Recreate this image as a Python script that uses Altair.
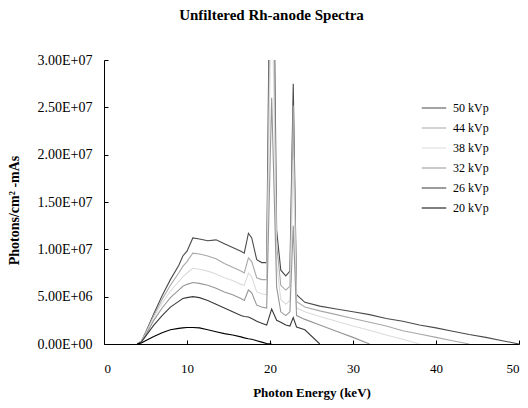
import altair as alt
import pandas as pd

energy = [4.0, 4.5, 5, 6, 7, 8, 9, 9.5, 10, 10.7, 11.5, 12.5, 13.5, 14.5, 15.5, 16.5, 16.9,
          17.4, 17.8, 18.4, 19.0, 19.6, 20.2, 20.8, 21.3, 21.9, 22.4, 22.8, 23.2, 24.2, 26,
          28, 30, 32, 34, 36, 38, 40, 42, 44, 46, 48, 50]

# photons / cm^2-mAs, in millions
kvp50 = [0, 0.3, 1.2, 3.2, 5.1, 6.8, 8.3, 9.3, 9.8, 11.2, 11.1, 10.9, 11.0, 10.6, 10.2, 9.8, 9.6,
         11.7, 11.2, 8.9, 8.6, 8.6, 60, 12.0, 7.8, 7.2, 7.7, 27.5, 5.2, 4.4, 4.0,
         3.7, 3.4, 3.1, 2.7, 2.4, 2.0, 1.7, 1.35, 1.0, 0.7, 0.35, 0]
kvp44 = [0, 0.3, 1.1, 3.0, 4.7, 6.2, 7.5, 8.2, 8.7, 9.6, 9.5, 9.3, 9.0, 8.5, 8.1, 7.7, 7.5,
         9.1, 8.7, 7.0, 6.8, 6.8, 50, 10.5, 6.2, 5.7, 6.1, 25.2, 4.5, 3.9, 3.5,
         3.1, 2.7, 2.3, 1.9, 1.4, 1.05, 0.7, 0.35, 0, None, None, None]
kvp38 = [0, 0.3, 1.0, 2.8, 4.3, 5.6, 6.6, 7.1, 7.5, 8.0, 7.9, 7.7, 7.4, 7.0, 6.7, 6.3, 6.2,
         7.5, 7.1, 5.5, 5.3, 5.2, 40, 8.5, 4.7, 4.2, 4.6, 19.5, 3.8, 3.4, 2.9,
         2.4, 1.9, 1.45, 0.95, 0.5, 0, None, None, None, None, None, None]
kvp32 = [0, 0.25, 0.9, 2.5, 3.8, 4.9, 5.7, 6.1, 6.3, 6.5, 6.4, 6.2, 5.9, 5.5, 5.2, 4.8, 4.6,
         5.7, 5.4, 4.1, 3.9, 3.8, 26, 6.0, 3.4, 3.0, 3.4, 12.5, 3.0, 2.6, 2.0,
         1.35, 0.7, 0, None, None, None, None, None, None, None, None, None]
kvp26 = [0, 0.2, 0.8, 2.0, 3.0, 3.9, 4.5, 4.8, 4.9, 5.0, 4.9, 4.6, 4.2, 3.8, 3.4, 3.0, 2.9,
         2.85, 2.7, 2.4, 2.2, 2.0, 3.7, 2.5, 2.3, 2.0, 1.9, 2.8, 1.8, 1.5, 0,
         None, None, None, None, None, None, None, None, None, None, None, None]
kvp20 = [0, 0.1, 0.35, 0.8, 1.2, 1.5, 1.65, 1.7, 1.75, 1.75, 1.7, 1.5, 1.3, 1.1, 0.95, 0.75, 0.65,
         0.55, 0.5, 0.35, 0.2, 0.05, 0, None, None, None, None, None, None, None, None,
         None, None, None, None, None, None, None, None, None, None, None, None]

series_names = ["50 kVp", "44 kVp", "38 kVp", "32 kVp", "26 kVp", "20 kVp"]
series_vals = [kvp50, kvp44, kvp38, kvp32, kvp26, kvp20]
series_colors = ["#4a4a4a", "#a8a8a8", "#dcdcdc", "#969696", "#3a3a3a", "#000000"]

x_ticks = [0, 10, 20, 30, 40, 50]
y_ticks = [0, 5e6, 1e7, 1.5e7, 2e7, 2.5e7, 3e7]

rows = []
for name, vals in zip(series_names, series_vals):
    for e, v in zip(energy, vals):
        if v is not None:
            rows.append({"E": e, "V": v * 1e6, "kVp": name})
df = pd.DataFrame(rows)

FONT = "Liberation Serif, Times New Roman, serif"
xscale = alt.Scale(domain=[0, 50], nice=False, zero=False)
yscale = alt.Scale(domain=[0, 3e7], nice=False)

lines = alt.Chart(df).mark_line(strokeWidth=1.1, clip=True).encode(
    x=alt.X("E:Q", scale=xscale,
            axis=alt.Axis(values=x_ticks, ticks=False, grid=False, domainColor="black",
                          labelFont=FONT, labelFontSize=13, labelColor="black", labelPadding=18,
                          title="Photon Energy (keV)", titleFont=FONT, titleFontSize=13,
                          titleFontWeight="bold", titleColor="black", titleY=48,
                          titleBaseline="middle")),
    y=alt.Y("V:Q", scale=yscale,
            axis=alt.Axis(values=y_ticks, ticks=False, grid=False, domainColor="black",
                          labelExpr="upper(replace(format(datum.value, '.2e'), 'e+', 'e+0'))",
                          labelFont=FONT, labelFontSize=14, labelColor="black", labelPadding=12,
                          title="Photons/cm² -mAs", titleFont=FONT, titleFontSize=14,
                          titleFontWeight="bold", titleColor="black", titleX=-90, titleY=150,
                          titleAngle=-90, titleAlign="center", titleBaseline="middle")),
    color=alt.Color("kVp:N",
                    scale=alt.Scale(domain=series_names, range=series_colors),
                    sort=series_names,
                    legend=alt.Legend(orient="none", legendX=317, legendY=41, title=None,
                                      symbolType="stroke", symbolStrokeWidth=1.2, symbolSize=600,
                                      clipHeight=14, labelFont=FONT, labelFontSize=12,
                                      labelColor="black", rowPadding=6, labelOffset=6)),
    order=alt.Order("E:Q"),
)

tickmarks = alt.Chart(df).mark_point(opacity=0, clip=True).encode(
    x=alt.X("E:Q", scale=xscale,
            axis=alt.Axis(orient="bottom", values=x_ticks, offset=-4, tickSize=4, tickColor="black",
                          labels=False, domain=False, grid=False, title=None)),
    y=alt.Y("V:Q", scale=yscale,
            axis=alt.Axis(orient="left", values=y_ticks, offset=-4, tickSize=4, tickColor="black",
                          labels=False, domain=False, grid=False, title=None)),
)

chart = alt.layer(lines, tickmarks).resolve_axis(x="independent", y="independent").properties(
    width=415,
    height=284,
    autosize=alt.AutoSizeParams(type="none"),
    padding={"left": 96, "top": 52, "right": 1, "bottom": 56},
    title=alt.TitleParams("Unfiltered Rh-anode Spectra", font=FONT, fontSize=15,
                          fontWeight="bold", color="black", offset=30, dx=-40, anchor="middle"),
).configure_view(stroke=None)

chart.save("out.html", embed_options={"renderer": "svg", "actions": False})
